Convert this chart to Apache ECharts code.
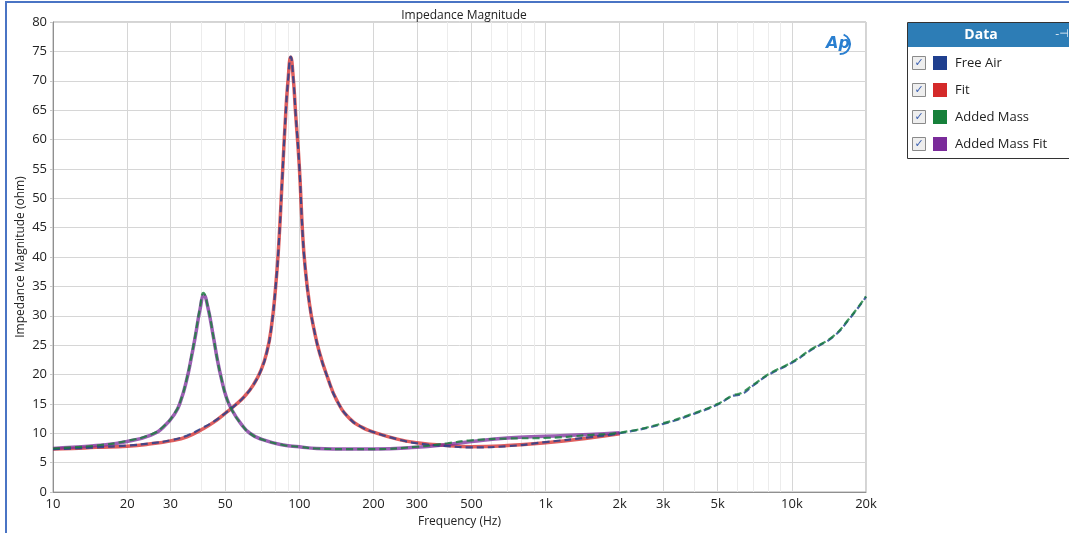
<!DOCTYPE html>
<html>
<head>
<meta charset="utf-8">
<script src="https://cdn.jsdelivr.net/npm/echarts@6/dist/echarts.min.js"></script>
<style>
html, body { margin: 0; padding: 0; background: #fff; }
#main { width: 1069px; height: 533px; }
</style>
</head>
<body>
<div id="main"></div>
<script>
// tick values on the log frequency axis
var majorTicks = [10, 20, 30, 50, 100, 200, 300, 500, 1000, 2000, 3000, 5000, 10000, 20000];
var minorTicks = [40, 60, 70, 80, 90, 400, 600, 700, 800, 900, 4000, 6000, 7000, 8000, 9000];

// Free Air (measured) - Hz / ohm
var freeAirHz = [10, 12, 15, 20, 25, 30, 35, 40, 45, 50, 55, 60, 65, 70, 74, 77, 80, 82.5, 85.3, 88.1, 90, 92.3, 94.5, 96.6, 100, 103, 105.5, 110, 115, 121, 130, 142, 160, 180, 200, 250, 300, 400, 500, 700, 1000, 1500, 2000, 3000, 4000, 5000, 5800, 6200, 7000, 8000, 10000, 12000, 14700, 17000, 20000];
var freeAirOhm = [7.3, 7.4, 7.6, 7.9, 8.3, 8.8, 9.6, 10.8, 12.0, 13.4, 14.8, 16.3, 18.2, 20.8, 24.0, 28.0, 34.5, 42.0, 53.5, 64.5, 70.0, 74.1, 70.5, 64.5, 55.5, 44.5, 38.5, 32.0, 27.5, 23.6, 19.6, 15.6, 12.5, 11.0, 10.2, 9.0, 8.3, 7.8, 7.6, 7.8, 8.5, 9.3, 10.0, 11.6, 13.3, 14.9, 16.4, 16.6, 18.2, 19.9, 22.0, 24.2, 26.4, 29.3, 33.2];

// Fit (free air)
var fitHz = [10, 12, 15, 20, 25, 30, 35, 40, 45, 50, 55, 60, 65, 70, 74, 77, 80, 82.5, 85.3, 88.1, 90, 92.3, 94.5, 96.6, 100, 103, 105.5, 110, 115, 121, 130, 142, 160, 180, 200, 250, 300, 400, 500, 700, 1000, 1500, 2000];
var fitOhm = [7.3, 7.4, 7.6, 7.8, 8.2, 8.7, 9.4, 10.6, 11.9, 13.4, 14.8, 16.3, 18.2, 20.8, 24.0, 28.0, 34.5, 42.0, 53.5, 64.5, 70.0, 74.0, 70.5, 64.5, 55.5, 44.5, 38.5, 32.0, 27.5, 23.6, 19.6, 15.6, 12.5, 11.0, 10.2, 9.0, 8.4, 7.9, 7.7, 7.9, 8.4, 9.2, 9.9];

// Added Mass (measured)
var addedMassHz = [10, 12, 15, 20, 25, 28, 31.3, 33, 34.9, 36.5, 37.8, 39.5, 40.8, 42.5, 44.8, 46.5, 48.4, 50.5, 53.2, 58, 63, 70, 86, 100, 117.6, 160, 200, 300, 400, 500, 700, 1000, 1500, 2000, 3000, 4000, 5000, 5800, 6200, 7000, 8000, 10000, 12000, 14700, 17000, 20000];
var addedMassOhm = [7.4, 7.6, 7.9, 8.7, 9.8, 11.1, 13.5, 15.6, 19.2, 23.2, 26.6, 31.3, 33.9, 31.6, 26.4, 22.5, 19.1, 16.2, 14.0, 11.6, 10.0, 9.0, 8.0, 7.7, 7.4, 7.3, 7.3, 7.7, 8.3, 8.8, 9.1, 9.2, 9.7, 10.1, 11.7, 13.4, 15.0, 16.5, 16.8, 18.3, 20.0, 22.1, 24.3, 26.5, 29.4, 33.3];

// Added Mass Fit
var addedMassFitHz = [10, 12, 15, 20, 25, 28, 31.3, 33, 34.9, 36.5, 37.8, 39.5, 41, 42.5, 44.8, 46.5, 48.4, 50.5, 53.2, 58, 63, 70, 86, 100, 117.6, 160, 200, 300, 400, 500, 700, 1000, 1500, 2000];
var addedMassFitOhm = [7.4, 7.6, 7.9, 8.6, 9.7, 11.0, 13.4, 15.5, 19.1, 23.0, 26.4, 31.0, 33.5, 31.5, 26.4, 22.5, 19.1, 16.2, 14.0, 11.6, 10.0, 9.0, 8.0, 7.7, 7.4, 7.3, 7.3, 7.6, 8.1, 8.6, 9.2, 9.5, 9.8, 10.1];

function pairs(xs, ys) {
  return xs.map(function (x, i) { return [x, ys[i]]; });
}

function freqLabel(v) {
  return v >= 1000 ? (v / 1000) + 'k' : String(v);
}

var font = 'Open Sans';

function lineSeries(name, xs, ys, color, dashed) {
  return {
    name: name,
    type: 'line',
    data: pairs(xs, ys),
    showSymbol: false,
    symbol: 'none',
    smooth: 0.5,
    z: dashed ? 4 : 3,
    lineStyle: {
      color: color,
      width: dashed ? 2.2 : 3.5,
      type: dashed ? [7, 4] : 'solid',
      opacity: dashed ? 0.8 : 0.75
    },
    itemStyle: { color: color },
    animation: false
  };
}

var chart = echarts.init(document.getElementById('main'));

var legendNames = ['Free Air', 'Fit', 'Added Mass', 'Added Mass Fit'];
var checkboxes = [];
legendNames.forEach(function (n, i) {
  var y = 56 + i * 27;
  checkboxes.push({ type: 'rect', z: 10, shape: { x: 912.5, y: y + 0.5, width: 13, height: 13 },
    style: { fill: '#eeeeee', stroke: '#8a8a8a', lineWidth: 1 } });
  checkboxes.push({ type: 'text', z: 11, x: 919, y: y + 7,
    style: { text: '\u2713', fill: '#3a5fb0', font: 'bold 11px DejaVu Sans', align: 'center', verticalAlign: 'middle' } });
});

var option = {
  animation: false,
  backgroundColor: '#fff',
  textStyle: { fontFamily: font },
  title: {
    text: 'Impedance Magnitude',
    left: 459,
    top: 5,
    textAlign: 'center',
    textStyle: { fontFamily: font, fontSize: 12, fontWeight: 'normal', color: '#222' }
  },
  grid: {
    left: 53, right: 203, top: 22, bottom: 41,
    show: true, borderColor: '#a8a8a8', borderWidth: 1
  },
  legend: {
    orient: 'vertical',
    left: 933,
    top: 56,
    padding: 0,
    itemWidth: 14,
    itemHeight: 14,
    itemGap: 13,
    icon: 'rect',
    data: legendNames,
    selectedMode: false,
    z: 12,
    itemStyle: { borderWidth: 0, opacity: 1 },
    textStyle: { fontFamily: font, fontSize: 13, color: '#222', padding: [0, 0, 0, 3] }
  },
  xAxis: [{
    type: 'log',
    logBase: 10,
    min: 10,
    max: 20000,
    name: 'Frequency (Hz)',
    nameLocation: 'middle',
    nameGap: 24,
    nameMoveOverlap: false,
    nameTextStyle: { fontFamily: font, fontSize: 12, color: '#222' },
    axisLine: { show: true, lineStyle: { color: '#909090' } },
    axisTick: { show: false, customValues: majorTicks },
    axisLabel: {
      customValues: majorTicks,
      formatter: freqLabel,
      fontFamily: font, fontSize: 13, color: '#222', margin: 6
    },
    splitLine: { show: true, lineStyle: { color: '#d6d6d6', width: 1 } },
    minorTick: { show: false },
    minorSplitLine: { show: false }
  }, {
    type: 'log',
    logBase: 10,
    min: 10,
    max: 20000,
    position: 'bottom',
    axisLine: { show: false },
    axisTick: { show: false, customValues: minorTicks },
    axisLabel: { show: false, customValues: minorTicks },
    splitLine: { show: true, lineStyle: { color: '#ececec', width: 1 } }
  }],
  yAxis: {
    type: 'value',
    min: 0,
    max: 80,
    interval: 5,
    name: 'Impedance Magnitude (ohm)',
    nameLocation: 'middle',
    nameGap: 26,
    nameMoveOverlap: false,
    nameTextStyle: { fontFamily: font, fontSize: 12, color: '#222' },
    axisLine: { show: true, lineStyle: { color: '#909090' } },
    axisTick: { show: true, length: 3, lineStyle: { color: '#c8c8c8' } },
    axisLabel: { fontFamily: font, fontSize: 13, color: '#222', margin: 6 },
    splitLine: { show: true, lineStyle: { color: '#d6d6d6', width: 1 } }
  },
  series: [
    lineSeries('Free Air', freeAirHz, freeAirOhm, '#1f3f8f', true),
    lineSeries('Fit', fitHz, fitOhm, '#d42a2a', false),
    lineSeries('Added Mass', addedMassHz, addedMassOhm, '#16803a', true),
    lineSeries('Added Mass Fit', addedMassFitHz, addedMassFitOhm, '#7a2b9a', false)
  ],
  graphic: [
    // outer blue frame
    { type: 'rect', z: 100, silent: true,
      shape: { x: 6, y: 2, width: 1200, height: 700 },
      style: { fill: null, stroke: '#4a74c4', lineWidth: 2 } },
    // legend panel
    { type: 'rect', z: 1, shape: { x: 907.5, y: 22.5, width: 200, height: 136 },
      style: { fill: '#fff', stroke: '#333', lineWidth: 1 } },
    { type: 'rect', z: 2, shape: { x: 908, y: 23, width: 200, height: 24 },
      style: { fill: '#2d7db6' } },
    { type: 'text', z: 3, x: 981, y: 35,
      style: { text: 'Data', fill: '#fff', font: 'bold 14px "Open Sans"', align: 'center', verticalAlign: 'middle' } },
    { type: 'text', z: 3, x: 1062, y: 34,
      style: { text: '-\u22a3', fill: '#e8f0f8', font: '11px DejaVu Sans', align: 'center', verticalAlign: 'middle' } },
    // AP logo
    { type: 'text', z: 5, x: 838, y: 44,
      style: { text: 'Ap', fill: '#2a7fd0', font: 'italic bold 16px "DejaVu Sans"', align: 'center', verticalAlign: 'middle' } },
    { type: 'arc', z: 5, shape: { cx: 840, cy: 44, r: 10, startAngle: -1.2, endAngle: 1.6 },
      style: { stroke: '#2a7fd0', lineWidth: 2, fill: null } }
  ].concat(checkboxes)
};

chart.setOption(option);
</script>
</body>
</html>
